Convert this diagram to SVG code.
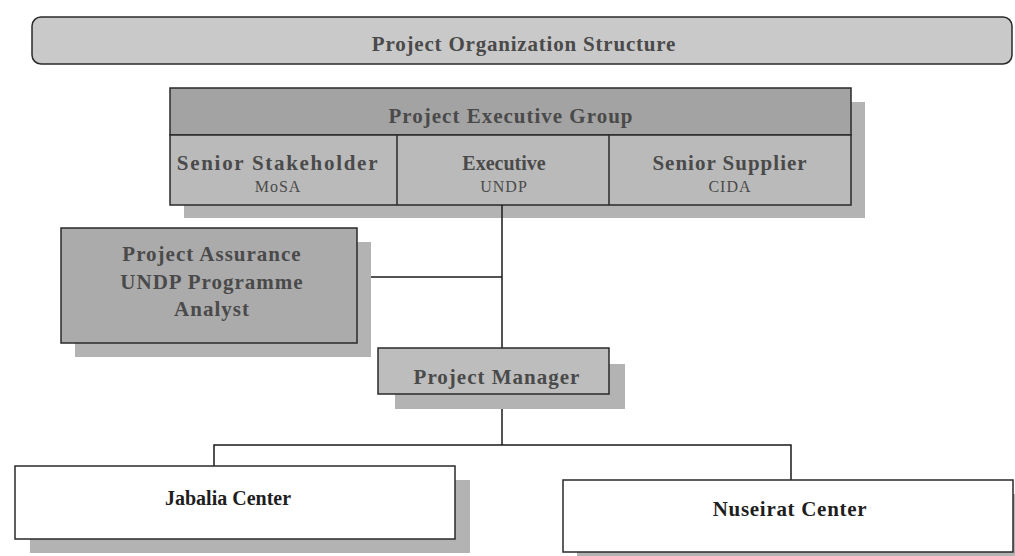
<svg xmlns="http://www.w3.org/2000/svg" width="1015" height="556" viewBox="0 0 1015 556">
  <style>
    .lbl { font-family: "Liberation Serif", "Times New Roman", serif; font-size: 21px; fill: #4a4a4a; text-anchor: middle; letter-spacing: 1px; }
    .b { font-weight: bold; }
    .sub { font-size: 16px; letter-spacing: 1px; }
    .dark { fill: #1e1e1e; }
    .shadow { fill: #b3b3b3; stroke: none; }
    .box { stroke: #2a2a2a; stroke-width: 1.5; }
    .conn { stroke: #1a1a1a; stroke-width: 1.5; fill: none; }
  </style>
  <rect width="1015" height="556" fill="#ffffff"/>

  <!-- title banner -->
  <g id="title">
    <rect x="32" y="17" width="980" height="47" rx="9" fill="#c9c9c9" class="box"/>
    <text x="524" y="51" class="lbl b" style="letter-spacing:0.8px">Project Organization Structure</text>
  </g>

  <!-- executive board with three roles -->
  <g id="executive-group">
    <rect x="184" y="102" width="681" height="116" class="shadow"/>
    <rect x="170" y="88" width="681" height="47" fill="#a3a3a3" class="box"/>
    <rect x="170" y="135" width="681" height="70" fill="#bababa" class="box"/>
    <line x1="397" y1="135" x2="397" y2="205" class="box"/>
    <line x1="609" y1="135" x2="609" y2="205" class="box"/>
    <text x="511" y="123" class="lbl b">Project Executive Group</text>
    <text x="278" y="170" class="lbl b" style="letter-spacing:1.7px">Senior Stakeholder</text>
    <text x="278" y="192" class="lbl sub">MoSA</text>
    <text x="504" y="170" class="lbl b" style="font-size:20px;letter-spacing:0">Executive</text>
    <text x="504" y="192" class="lbl sub">UNDP</text>
    <text x="730" y="170" class="lbl b">Senior Supplier</text>
    <text x="730" y="192" class="lbl sub">CIDA</text>
  </g>

  <!-- connectors -->
  <g id="connectors">
    <line x1="502" y1="205" x2="502" y2="445" class="conn"/>
    <line x1="371" y1="277" x2="502" y2="277" class="conn"/>
    <polyline points="214,466 214,445 791,445 791,480" class="conn"/>
  </g>

  <g id="project-assurance">
    <rect x="75" y="242" width="296" height="115" class="shadow"/>
    <rect x="61" y="228" width="296" height="115" fill="#ababab" class="box"/>
    <text x="212" y="261" class="lbl b">Project Assurance</text>
    <text x="212" y="289" class="lbl b">UNDP Programme</text>
    <text x="212" y="316" class="lbl b">Analyst</text>
  </g>

  <g id="project-manager">
    <rect x="395" y="364" width="230" height="45" class="shadow"/>
    <rect x="378" y="348" width="231" height="46" fill="#bdbdbd" class="box"/>
    <text x="497" y="384" class="lbl b">Project Manager</text>
  </g>

  <g id="jabalia-center">
    <rect x="30" y="480" width="440" height="73" class="shadow"/>
    <rect x="15" y="466" width="440" height="73" fill="#ffffff" class="box"/>
    <text x="228" y="505" class="lbl b dark" style="font-size:20px;letter-spacing:0">Jabalia Center</text>
  </g>

  <g id="nuseirat-center">
    <rect x="577" y="494" width="450" height="72" class="shadow"/>
    <rect x="563" y="480" width="450" height="72" fill="#ffffff" class="box"/>
    <text x="790" y="516" class="lbl b dark" style="letter-spacing:0.7px">Nuseirat Center</text>
  </g>
</svg>
